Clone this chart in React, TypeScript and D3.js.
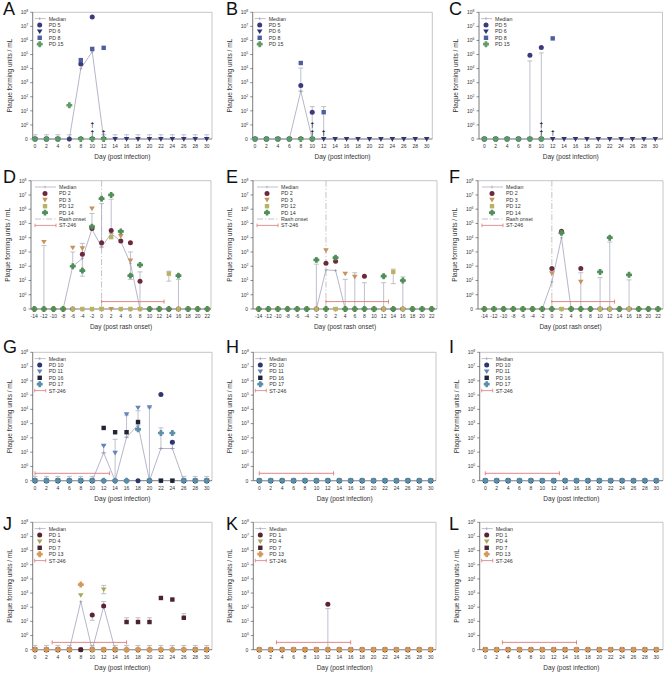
import React from 'react';
import * as d3 from 'd3';

type V = number | null;
type Err = [number, number, number];

const FONT = "'Liberation Sans', Arial, Helvetica, sans-serif";

// ---------- axes / categories ----------
const DAYS_INF = [0, 2, 4, 6, 8, 10, 12, 14, 16, 18, 20, 22, 24, 26, 28, 30];
const DAYS_RASH = [-14, -12, -10, -8, -6, -4, -2, 0, 2, 4, 6, 8, 10, 12, 14, 16, 18, 20, 22];
const Y_EXPONENTS = [0, 1, 2, 3, 4, 5, 6, 7, 8];
const ZERO_CAP = 0.2;
const ST_LEVEL = 0.33;

// ---------- series definitions per row ----------
const SERIES_ROW1 = [
  { name: 'PD 5', shape: 'circle', color: '#3b3a7c' },
  { name: 'PD 6', shape: 'triangle', color: '#2f3472' },
  { name: 'PD 8', shape: 'square', color: '#4f5e9e' },
  { name: 'PD 15', shape: 'cross', color: '#5f9c64' },
];
const SERIES_ROW2 = [
  { name: 'PD 2', shape: 'circle', color: '#6a2a3c' },
  { name: 'PD 3', shape: 'triangle', color: '#c8925c' },
  { name: 'PD 12', shape: 'square', color: '#b9b263' },
  { name: 'PD 14', shape: 'cross', color: '#4f8e58' },
];
const SERIES_ROW3 = [
  { name: 'PD 10', shape: 'circle', color: '#2b3672' },
  { name: 'PD 11', shape: 'triangle', color: '#6584ba' },
  { name: 'PD 16', shape: 'square', color: '#1f2536' },
  { name: 'PD 17', shape: 'cross', color: '#5a8fa8' },
];
const SERIES_ROW4 = [
  { name: 'PD 1', shape: 'circle', color: '#5c2232' },
  { name: 'PD 4', shape: 'triangle', color: '#a9a85a' },
  { name: 'PD 7', shape: 'square', color: '#4a2232' },
  { name: 'PD 13', shape: 'cross', color: '#d39a5a' },
];

// ---------- Panel A ----------
const A_PD5: V[] = [0, 0, 0, 0, 2.1e4, 4.7e7, null, null, null, null, null, null, null, null, null, null];
const A_PD6: V[] = [0, 0, 0, null, 0, 0, 0, 0, 0, 0, 0, 0, 0, 0, 0, 0];
const A_PD8: V[] = [0, 0, 0, null, 4e4, 2.5e5, 3e5, null, null, null, null, null, null, null, null, null];
const A_PD15: V[] = [0, 0, 0, 25, 0, 0, 0, null, null, null, null, null, null, null, null, null];
const A_MEDIAN: V[] = [0, 0, 0, 0, 1e4, 1.6e5, 0, 0, 0, 0, 0, 0, 0, 0, 0, 0];
const A_ERR: Err[] = [];
const A_ZERO_CAPS = [0, 2, 4, 6, 12, 14, 16, 18, 20, 22, 24, 26, 28, 30];
const A_DEATHS = [10, 10, 12];

// ---------- Panel B ----------
const B_PD5: V[] = [0, 0, 0, 0, 630, 8, null, null, null, null, null, null, null, null, null, null];
const B_PD6: V[] = [0, 0, 0, 0, 0, 0, 0, 0, 0, 0, 0, 0, 0, 0, 0, 0];
const B_PD8: V[] = [0, 0, 0, 0, 2.5e4, 0, 8, null, null, null, null, null, null, null, null, null];
const B_PD15: V[] = [0, 0, 0, 0, 0, 0, null, null, null, null, null, null, null, null, null, null];
const B_MEDIAN: V[] = [0, 0, 0, 0, 250, 0, 0, 0, 0, 0, 0, 0, 0, 0, 0, 0];
const B_ERR: Err[] = [[8, 250, 1.1e4], [10, 0, 20], [12, 0, 20]];
const B_DEATHS = [10, 10, 12];

// ---------- Panel C ----------
const C_PD5: V[] = [0, 0, 0, 0, 9e4, 3.2e5, null, null, null, null, null, null, null, null, null, null];
const C_PD6: V[] = [0, 0, 0, 0, 0, 0, 0, 0, 0, 0, 0, 0, 0, 0, 0, 0];
const C_PD8: V[] = [0, 0, 0, 0, 0, 0, 1.4e6, null, null, null, null, null, null, null, null, null];
const C_PD15: V[] = [0, 0, 0, 0, 0, 0, null, null, null, null, null, null, null, null, null, null];
const C_MEDIAN: V[] = [0, 0, 0, 0, 0, 0, 0, 0, 0, 0, 0, 0, 0, 0, 0, 0];
const C_ERR: Err[] = [[8, 0, 3.5e4], [10, 0, 1.3e5]];
const C_DEATHS = [10, 10, 12];

// ---------- Panel D ----------
const D_PD2: V[] = [0, 0, 0, 0, 0, 700, 4.5e4, 4.5e3, 3.2e4, 6e3, 4.5e3, 9, 0, 0, 0, 0, 0, 0, 0];
const D_PD3: V[] = [0, 5e3, 0, 0, 2e3, 1.8e3, 1.1e6, 0, 0, 1.3e4, 250, 0, 0, 0, 0, 0, 0, 0, 0];
const D_PD12: V[] = [0, 0, 0, 0, 0, 0, 0, 0, 1.1e4, 0, 0, 0, 0, 0, 30, 0, 0, 0, 0];
const D_PD14: V[] = [0, 0, 0, 0, 100, 50, 6e4, 5.5e6, 1e7, 2.8e4, 22, 125, 0, 0, 0, 22, 0, 0, 0];
const D_MEDIAN: V[] = [0, 0, 0, 0, 100, 350, 4e4, 2.2e3, 2e4, 5.6e3, 160, 0, 0, 0, 0, 0, 0, 0, 0];
const D_ERR: Err[] = [[-12, 0, 2.8e3], [-6, 100, 1e3], [-4, 20, 4e3], [-2, 4e4, 5e5], [0, 2.2e3, 2.5e6], [2, 2e4, 5e6], [6, 12, 1e3], [8, 0, 40], [14, 9, 45], [16, 0, 12]];

// ---------- Panel E ----------
const E_PD2: V[] = [0, 0, 0, 0, 0, 0, 0, 160, 220, 0, 0, 20, 0, 0, 0, 0, 0, 0, 0];
const E_PD3: V[] = [0, 0, 0, 0, 0, 0, 0, 1.3e3, 0, 30, 18, 0, 0, 0, 0, 0, 0, 0, 0];
const E_PD12: V[] = [0, 0, 0, 0, 0, 0, 0, 0, 0, 0, 0, 0, 0, 0, 40, 0, 0, 0, 0];
const E_PD14: V[] = [0, 0, 0, 0, 0, 0, 280, 0, 400, 0, 0, 0, 0, 20, 0, 10, 0, 0, 0];
const E_MEDIAN: V[] = [0, 0, 0, 0, 0, 0, 0, 56, 50, 0, 0, 0, 0, 0, 0, 0, 0, 0, 0];
const E_ERR: Err[] = [[-2, 0, 140], [4, 0, 12], [6, 0, 35], [8, 0, 7], [12, 0, 7], [14, 6, 63], [16, 0, 18]];

// ---------- Panel F ----------
const F_PD2: V[] = [0, 0, 0, 0, 0, 0, 0, 70, 2.8e4, 0, 70, 0, 0, 0, 0, 0, 0, 0, 0];
const F_PD3: V[] = [0, 0, 0, 0, 0, 0, 0, 32, 0, 0, 8, 0, 0, 0, 0, 0, 0, 0, 0];
const F_PD12: V[] = [0, 0, 0, 0, 0, 0, 0, 0, 0, 0, 0, 0, 0, 0, 0, 0, 0, 0, 0];
const F_PD14: V[] = [0, 0, 0, 0, 0, 0, 0, 0, 2.2e4, 0, 0, 0, 40, 1e4, 0, 25, 0, 0, 0];
const F_MEDIAN: V[] = [0, 0, 0, 0, 0, 0, 0, 8, 1e4, 0, 0, 0, 0, 0, 0, 0, 0, 0, 0];
const F_ERR: Err[] = [[6, 0, 35], [10, 0, 16], [12, 0, 5e3], [16, 0, 11]];

// ---------- Panel G ----------
const G_PD10: V[] = [0, 0, 0, 0, 0, 0, 0, 0, 0, 0, 0, 1.1e5, 50, 0, 0, 0];
const G_PD11: V[] = [0, 0, 0, 0, 0, 0, 28, 9, 4.5e3, 1.3e4, 1.4e4, 0, 0, 0, 0, 0];
const G_PD16: V[] = [0, 0, 0, 0, 0, 0, 500, 250, 250, 1.3e3, 0, 0, 0, 0, 0, 0];
const G_PD17: V[] = [0, 0, 0, 0, 0, 0, 0, 0, 0, 400, 0, 220, 220, 0, 0, 0];
const G_MEDIAN: V[] = [0, 0, 0, 0, 0, 0, 9, 0, 110, 800, 0, 18, 18, 0, 0, 0];
const G_ERR: Err[] = [[12, 9, 30], [14, 0, 80], [16, 110, 4e3], [18, 800, 8e3], [20, 0, 1.3e4], [22, 18, 500], [24, 18, 60]];
const G_ZERO_CAPS = [0, 2, 4, 6, 8, 10, 26, 28, 30];

// ---------- Panels H, I (no virus detected) ----------
const H_ALL: V[] = [0, 0, 0, 0, 0, 0, 0, 0, 0, 0, 0, 0, 0, 0, 0, 0];
const I_ALL: V[] = [0, 0, 0, 0, 0, 0, 0, 0, 0, 0, 0, 0, 0, 0, 0, 0];

// ---------- Panel J ----------
const J_PD1: V[] = [0, 0, 0, 0, 0, 28, 120, 0, 0, 0, 0, 0, 0, 0, 0, 0];
const J_PD4: V[] = [0, 0, 0, 0, 700, 0, 1.8e3, 0, 0, 0, 0, 0, 0, 0, 0, 0];
const J_PD7: V[] = [0, 0, 0, 0, 0, 0, 0, 0, 9, 9, 9, 450, 350, 18, 0, 0];
const J_PD13: V[] = [0, 0, 0, 0, 4e3, 0, 0, 0, 0, 0, 0, 0, 0, 0, 0, 0];
const J_MEDIAN: V[] = [0, 0, 0, 0, 250, 0, 110, 0, 0, 0, 0, 0, 0, 0, 0, 0];
const J_ERR: Err[] = [[10, 12, 28], [12, 100, 250], [12, 900, 3.5e3], [16, 9, 18], [18, 9, 18], [20, 9, 18], [26, 18, 35]];
const J_ZERO_CAPS = [0, 2, 4, 6, 10, 14, 16, 18, 20, 22, 24, 26, 28, 30];

// ---------- Panel K ----------
const K_PD1: V[] = [0, 0, 0, 0, 0, 0, 160, 0, 0, 0, 0, 0, 0, 0, 0, 0];
const K_OTHER: V[] = [0, 0, 0, 0, 0, 0, 0, 0, 0, 0, 0, 0, 0, 0, 0, 0];
const K_ERR: Err[] = [[12, 0, 80]];

// ---------- Panel L ----------
const L_ALL: V[] = [0, 0, 0, 0, 0, 0, 0, 0, 0, 0, 0, 0, 0, 0, 0, 0];

// ---------- ST-246 treatment windows ----------
const ST_DEF = [0, 13];
const ST_GHI = [0, 13];
const ST_JKL = [3, 16];

// ---------- layout ----------
const ROWS = [
  { top: 12.3, zero: 139, letterY: 15 },
  { top: 180.7, zero: 309, letterY: 183 },
  { top: 352.3, zero: 480.7, letterY: 353 },
  { top: 522.3, zero: 649.7, letterY: 530 },
];
const COLS_R1 = [
  { left: 32.7, right: 212, t0: 35, t1: 206.7, lx: 3 },
  { left: 252.7, right: 432.3, t0: 255, t1: 426.7, lx: 226 },
  { left: 479, right: 662.5, t0: 484.3, t1: 655.3, lx: 449 },
];
const COLS_R2 = [
  { left: 31, right: 211, t0: 34.3, t1: 207.3, lx: 3 },
  { left: 253, right: 437, t0: 258.7, t1: 431.7, lx: 226 },
  { left: 478, right: 663, t0: 484.3, t1: 658, lx: 449 },
];
const COLS_R34 = [
  { left: 32.7, right: 212, t0: 35, t1: 206.7, lx: 3 },
  { left: 253.3, right: 436, t0: 259.3, t1: 430.7, lx: 226 },
  { left: 479.7, right: 663, t0: 485.3, t1: 656.3, lx: 449 },
];
const GEOM = [COLS_R1, COLS_R2, COLS_R34, COLS_R34];

type PanelDef = {
  letter: string; row: number; col: number; xLabel: string; days: number[];
  defs: { name: string; shape: string; color: string }[];
  values: V[][]; median: V[]; errors: Err[]; zeroCaps?: number[];
  deaths?: number[]; st?: number[]; rash?: boolean;
};

const PANELS: PanelDef[] = [
  { letter: 'A', row: 0, col: 0, xLabel: 'Day (post infection)', days: DAYS_INF, defs: SERIES_ROW1, values: [A_PD5, A_PD6, A_PD8, A_PD15], median: A_MEDIAN, errors: A_ERR, zeroCaps: A_ZERO_CAPS, deaths: A_DEATHS },
  { letter: 'B', row: 0, col: 1, xLabel: 'Day (post infection)', days: DAYS_INF, defs: SERIES_ROW1, values: [B_PD5, B_PD6, B_PD8, B_PD15], median: B_MEDIAN, errors: B_ERR, deaths: B_DEATHS },
  { letter: 'C', row: 0, col: 2, xLabel: 'Day (post infection)', days: DAYS_INF, defs: SERIES_ROW1, values: [C_PD5, C_PD6, C_PD8, C_PD15], median: C_MEDIAN, errors: C_ERR, deaths: C_DEATHS },
  { letter: 'D', row: 1, col: 0, xLabel: 'Day (post rash onset)', days: DAYS_RASH, defs: SERIES_ROW2, values: [D_PD2, D_PD3, D_PD12, D_PD14], median: D_MEDIAN, errors: D_ERR, st: ST_DEF, rash: true },
  { letter: 'E', row: 1, col: 1, xLabel: 'Day (post rash onset)', days: DAYS_RASH, defs: SERIES_ROW2, values: [E_PD2, E_PD3, E_PD12, E_PD14], median: E_MEDIAN, errors: E_ERR, st: ST_DEF, rash: true },
  { letter: 'F', row: 1, col: 2, xLabel: 'Day (post rash onset)', days: DAYS_RASH, defs: SERIES_ROW2, values: [F_PD2, F_PD3, F_PD12, F_PD14], median: F_MEDIAN, errors: F_ERR, st: ST_DEF, rash: true },
  { letter: 'G', row: 2, col: 0, xLabel: 'Day (post infection)', days: DAYS_INF, defs: SERIES_ROW3, values: [G_PD10, G_PD11, G_PD16, G_PD17], median: G_MEDIAN, errors: G_ERR, zeroCaps: G_ZERO_CAPS, st: ST_GHI },
  { letter: 'H', row: 2, col: 1, xLabel: 'Day (post infection)', days: DAYS_INF, defs: SERIES_ROW3, values: [H_ALL, H_ALL, H_ALL, H_ALL], median: H_ALL, errors: [], st: ST_GHI },
  { letter: 'I', row: 2, col: 2, xLabel: 'Day (post infection)', days: DAYS_INF, defs: SERIES_ROW3, values: [I_ALL, I_ALL, I_ALL, I_ALL], median: I_ALL, errors: [], st: ST_GHI },
  { letter: 'J', row: 3, col: 0, xLabel: 'Day (post infection)', days: DAYS_INF, defs: SERIES_ROW4, values: [J_PD1, J_PD4, J_PD7, J_PD13], median: J_MEDIAN, errors: J_ERR, zeroCaps: J_ZERO_CAPS, st: ST_JKL },
  { letter: 'K', row: 3, col: 1, xLabel: 'Day (post infection)', days: DAYS_INF, defs: SERIES_ROW4, values: [K_PD1, K_OTHER, K_OTHER, K_OTHER], median: K_OTHER, errors: K_ERR, st: ST_JKL },
  { letter: 'L', row: 3, col: 2, xLabel: 'Day (post infection)', days: DAYS_INF, defs: SERIES_ROW4, values: [L_ALL, L_ALL, L_ALL, L_ALL], median: L_ALL, errors: [], st: ST_JKL },
];

const MED_COLOR = '#a3a3bb';
const ERR_COLOR = '#b0b0c2';
const ST_COLOR = '#d97b7b';
const AXIS_COLOR = '#444';
const FRAME_COLOR = '#b8b8b8';
const TEXT_COLOR = '#333';

const crossPath = d3.symbol(d3.symbolCross, 13)() as string;

function Marker({ shape, x, y, color }: { shape: string; x: number; y: number; color: string }) {
  if (shape === 'circle') return <circle cx={x} cy={y} r={2.5} fill={color} />;
  if (shape === 'square') return <rect x={x - 2.2} y={y - 2.2} width={4.4} height={4.4} fill={color} />;
  if (shape === 'triangle')
    return <path d={`M${x - 2.8},${y - 2} L${x + 2.8},${y - 2} L${x},${y + 2.6} Z`} fill={color} />;
  return <path d={crossPath} transform={`translate(${x},${y})`} fill={color} stroke={color} strokeWidth={1.1} strokeLinejoin="round" />;
}

function Panel({ p }: { p: PanelDef }) {
  const g = GEOM[p.row][p.col];
  const r = ROWS[p.row];
  const x = d3.scaleLinear().domain([p.days[0], p.days[p.days.length - 1]]).range([g.t0, g.t1]);
  const y = d3.scaleLinear().domain([-1, 8]).range([r.zero, r.top]);
  const yv = (v: number) => (v <= 0 ? y(-1) : y(Math.log10(v)));

  const medPts: [number, number][] = [];
  p.median.forEach((v, i) => { if (v !== null) medPts.push([x(p.days[i]), yv(v)]); });
  const medLine = d3.line()(medPts) as string;

  const errs: Err[] = [...p.errors, ...(p.zeroCaps || []).map((d) => [d, 0, ZERO_CAP] as Err)];
  const deathCount: Record<number, number> = {};

  const legendItems: { kind: string; name: string; shape?: string; color?: string }[] = [
    { kind: 'median', name: 'Median' },
    ...p.defs.map((d) => ({ kind: 'series', name: d.name, shape: d.shape, color: d.color })),
  ];
  if (p.rash) legendItems.push({ kind: 'rash', name: 'Rash onset' });
  if (p.st) legendItems.push({ kind: 'st', name: 'ST-246' });
  const wide = p.row === 1;
  const lg = wide ? { l0: 4, l1: 25, m: 14, t: 28 } : { l0: 2, l1: 13, m: 7, t: 16 };

  const midY = (r.top + r.zero) / 2;
  const midX = (g.left + g.right) / 2;

  return (
    <g>
      <text x={g.lx} y={r.letterY} fontSize={18} fill="#111" fontFamily={FONT}>{p.letter}</text>
      {/* frame */}
      <line x1={g.left} x2={g.right} y1={r.top} y2={r.top} stroke={FRAME_COLOR} strokeWidth={0.8} />
      <line x1={g.right} x2={g.right} y1={r.top} y2={r.zero} stroke={FRAME_COLOR} strokeWidth={0.8} />
      <line x1={g.left} x2={g.left} y1={r.top} y2={r.zero} stroke={AXIS_COLOR} strokeWidth={0.7} />
      <line x1={g.left} x2={g.right} y1={r.zero} y2={r.zero} stroke={AXIS_COLOR} strokeWidth={0.7} />
      {/* y ticks */}
      <g>
        <line x1={g.left - 2.5} x2={g.left} y1={y(-1)} y2={y(-1)} stroke={AXIS_COLOR} strokeWidth={0.6} />
        <text x={g.left - 5} y={y(-1) + 1.8} fontSize={5} textAnchor="end" fill={TEXT_COLOR} fontFamily={FONT}>0</text>
        {Y_EXPONENTS.map((e) => (
          <g key={e}>
            <line x1={g.left - 2.5} x2={g.left} y1={y(e)} y2={y(e)} stroke={AXIS_COLOR} strokeWidth={0.6} />
            <text x={g.left - 4.5} y={y(e) + 1.8} fontSize={5} textAnchor="end" fill={TEXT_COLOR} fontFamily={FONT}>
              10<tspan fontSize={3.4} dy={-2}>{e}</tspan>
            </text>
          </g>
        ))}
      </g>
      {/* x ticks */}
      {p.days.map((d) => (
        <g key={d}>
          <line x1={x(d)} x2={x(d)} y1={r.zero} y2={r.zero + 2.5} stroke={AXIS_COLOR} strokeWidth={0.6} />
          <text x={x(d)} y={r.zero + 9} fontSize={5} textAnchor="middle" fill={TEXT_COLOR} fontFamily={FONT}>{d}</text>
        </g>
      ))}
      <text x={midX} y={r.zero + 20} fontSize={6.5} textAnchor="middle" fill={TEXT_COLOR} fontFamily={FONT}>{p.xLabel}</text>
      <text transform={`translate(${g.left - 21},${midY}) rotate(-90)`} fontSize={6.5} textAnchor="middle" fill={TEXT_COLOR} fontFamily={FONT}>
        Plaque forming units / mL
      </text>
      {/* rash onset */}
      {p.rash && (
        <line x1={x(0)} x2={x(0)} y1={r.top} y2={r.zero} stroke="#b5b5b5" strokeWidth={0.8} strokeDasharray="6,2,1.2,2" />
      )}
      {/* error bars */}
      {errs.map(([d, lo, hi], i) => (
        <g key={i} stroke={ERR_COLOR} strokeWidth={0.8}>
          <line x1={x(d)} x2={x(d)} y1={yv(lo)} y2={yv(hi)} />
          <line x1={x(d) - 2.5} x2={x(d) + 2.5} y1={yv(hi)} y2={yv(hi)} />
          {lo > 0 && <line x1={x(d) - 2.5} x2={x(d) + 2.5} y1={yv(lo)} y2={yv(lo)} />}
        </g>
      ))}
      {/* median */}
      <path d={medLine} fill="none" stroke={MED_COLOR} strokeWidth={0.8} />
      {medPts.map(([mx, my], i) => (
        <g key={i} stroke="#8f8fa8" strokeWidth={0.6}>
          <line x1={mx - 1.5} x2={mx + 1.5} y1={my} y2={my} />
          <line x1={mx} x2={mx} y1={my - 1.5} y2={my + 1.5} />
        </g>
      ))}
      {/* ST-246 */}
      {p.st && (
        <g stroke={ST_COLOR} strokeWidth={0.9}>
          <line x1={x(p.st[0])} x2={x(p.st[1])} y1={yv(ST_LEVEL)} y2={yv(ST_LEVEL)} />
          <line x1={x(p.st[0])} x2={x(p.st[0])} y1={yv(ST_LEVEL) - 2} y2={yv(ST_LEVEL) + 2} />
          <line x1={x(p.st[1])} x2={x(p.st[1])} y1={yv(ST_LEVEL) - 2} y2={yv(ST_LEVEL) + 2} />
        </g>
      )}
      {/* series markers */}
      {p.values.map((vals, si) => (
        <g key={si}>
          {vals.map((v, i) =>
            v === null ? null : (
              <Marker key={i} shape={p.defs[si].shape} color={p.defs[si].color} x={x(p.days[i])} y={yv(v)} />
            )
          )}
        </g>
      ))}
      {/* deaths */}
      {(p.deaths || []).map((d, i) => {
        const k = deathCount[d] || 0;
        deathCount[d] = k + 1;
        return (
          <text key={i} x={x(d)} y={r.zero - 4 - k * 8} fontSize={6.5} fontWeight="bold" textAnchor="middle" fill="#22223a" fontFamily={FONT}>†</text>
        );
      })}
      {/* legend */}
      {legendItems.map((it, i) => {
        const ly = r.top + 6.3 + i * 6.4;
        const x0 = g.left + lg.l0, x1 = g.left + lg.l1, xm = g.left + lg.m;
        return (
          <g key={i}>
            {it.kind === 'median' && (
              <g stroke={MED_COLOR} strokeWidth={0.7}>
                <line x1={x0} x2={x1} y1={ly} y2={ly} />
                <line x1={xm} x2={xm} y1={ly - 1.3} y2={ly + 1.3} stroke="#8f8fa8" />
              </g>
            )}
            {it.kind === 'series' && <Marker shape={it.shape!} color={it.color!} x={xm} y={ly} />}
            {it.kind === 'rash' && (
              <line x1={x0} x2={x1} y1={ly} y2={ly} stroke="#b5b5b5" strokeWidth={0.8} strokeDasharray="6,2,1.2,2" />
            )}
            {it.kind === 'st' && (
              <g stroke={ST_COLOR} strokeWidth={0.8}>
                <line x1={x0} x2={x1} y1={ly} y2={ly} />
                <line x1={x0} x2={x0} y1={ly - 1.8} y2={ly + 1.8} />
                <line x1={x1} x2={x1} y1={ly - 1.8} y2={ly + 1.8} />
              </g>
            )}
            <text x={g.left + lg.t} y={ly + 1.9} fontSize={5.3} fill={TEXT_COLOR} fontFamily={FONT}>{it.name}</text>
          </g>
        );
      })}
    </g>
  );
}

export default function App() {
  return (
    <svg width={664} height={674} style={{ position: 'absolute', left: 0, top: 0, background: '#fff' }} fontFamily={FONT}>
      <rect width={664} height={674} fill="#fff" />
      {PANELS.map((p) => (
        <Panel key={p.letter} p={p} />
      ))}
    </svg>
  );
}
